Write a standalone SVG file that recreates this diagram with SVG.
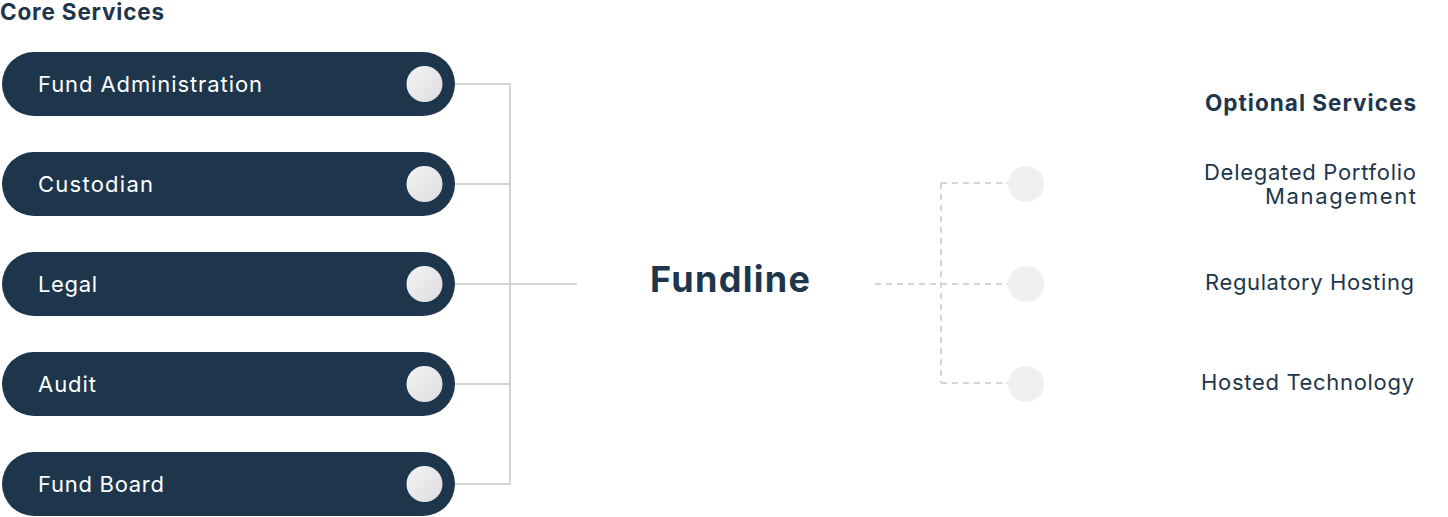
<svg xmlns="http://www.w3.org/2000/svg" width="1448" height="517" viewBox="0 0 1448 517">
<defs>
<linearGradient id="dot" x1="0" y1="0" x2="1" y2="1">
<stop offset="0" stop-color="#f4f4f5"/>
<stop offset="1" stop-color="#dcdcde"/>
</linearGradient>
<style>
.pill{fill:#1d364c}
.dot{fill:url(#dot)}
.opt{fill:#f0f0f0}
.pt{font-family:"Inter","Open Sans",sans-serif;font-size:22px;fill:#ffffff}
.ot{font-family:"Inter","Open Sans",sans-serif;font-size:22px;fill:#1d364c;text-anchor:end}
.hd{font-family:"Inter","Open Sans",sans-serif;font-size:22.5px;font-weight:700;fill:#1d364c}
.solid{fill:none;stroke:#c8c8c8;stroke-width:1.5}
.dash{fill:none;stroke:#c8c8c8;stroke-width:1.5;stroke-dasharray:6 5}
</style>
</defs>
<rect width="1448" height="517" fill="#ffffff"/>
<text class="hd" x="0" y="20" textLength="164">Core Services</text>
<text class="hd" x="1416" y="111" text-anchor="end" textLength="211">Optional Services</text>
<g id="connectors">
<path class="solid" d="M443 84H510V484H443M443 184H510M443 284H577M443 384H510"/>
<path class="dash" d="M875 284H1008M941 183V383M941 183H1008M941 383H1008"/>
</g>
<g id="fund-administration">
<rect class="pill" x="2" y="52" width="453" height="64" rx="32"/>
<circle class="dot" cx="424.5" cy="84" r="18"/>
<text class="pt" x="38" y="91.5" textLength="224">Fund Administration</text>
</g>
<g id="custodian">
<rect class="pill" x="2" y="152" width="453" height="64" rx="32"/>
<circle class="dot" cx="424.5" cy="184" r="18"/>
<text class="pt" x="38" y="191.5" textLength="115">Custodian</text>
</g>
<g id="legal">
<rect class="pill" x="2" y="252" width="453" height="64" rx="32"/>
<circle class="dot" cx="424.5" cy="284" r="18"/>
<text class="pt" x="38" y="291.5" textLength="59">Legal</text>
</g>
<g id="audit">
<rect class="pill" x="2" y="352" width="453" height="64" rx="32"/>
<circle class="dot" cx="424.5" cy="384" r="18"/>
<text class="pt" x="38" y="391.5" textLength="58">Audit</text>
</g>
<g id="fund-board">
<rect class="pill" x="2" y="452" width="453" height="64" rx="32"/>
<circle class="dot" cx="424.5" cy="484" r="18"/>
<text class="pt" x="38" y="491.5" textLength="126">Fund Board</text>
</g>
<g id="fundline">
<text x="730" y="292" text-anchor="middle" textLength="160" style="font-family:'Inter','Open Sans',sans-serif;font-size:36px;font-weight:700;fill:#1d364c">Fundline</text>
</g>
<g id="delegated-portfolio-management">
<circle class="opt" cx="1026" cy="184" r="18"/>
<text class="ot" x="1416" y="180" textLength="212">Delegated Portfolio</text>
<text class="ot" x="1416" y="204" textLength="151">Management</text>
</g>
<g id="regulatory-hosting">
<circle class="opt" cx="1026" cy="284" r="18"/>
<text class="ot" x="1414" y="290" textLength="209">Regulatory Hosting</text>
</g>
<g id="hosted-technology">
<circle class="opt" cx="1026" cy="384" r="18"/>
<text class="ot" x="1414" y="390" textLength="213">Hosted Technology</text>
</g>
</svg>
